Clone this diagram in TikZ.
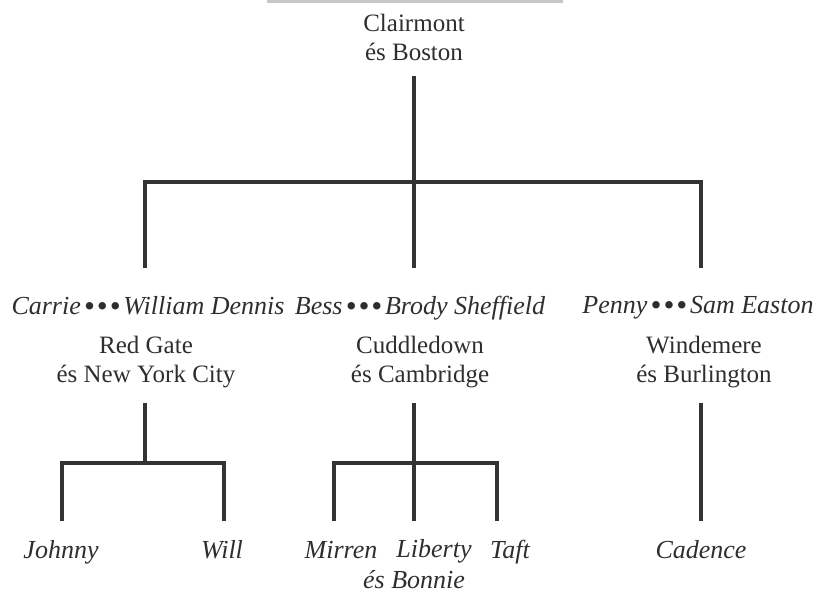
\documentclass[tikz,border=0pt]{standalone}
\usepackage{fontspec}
\setmainfont{Liberation Serif}
\newcommand\onedot{\raisebox{-2.5pt}{\fontsize{31}{31}\selectfont\textbullet}}
\newcommand\mydots{\kern3pt\onedot\kern2pt\onedot\kern2pt\onedot\kern3pt}
\begin{document}
\begin{tikzpicture}[x=1pt,y=-1pt,
  txt/.style={font=\fontsize{25}{29}\selectfont, align=center, inner sep=0pt, text=black!82},
  nm/.style={font=\fontsize{26}{31}\selectfont\itshape, align=center, inner sep=0pt, text=black!82},
  kid/.style={nm, text height=17.5pt, anchor=north, outer ysep=20pt},
  ln/.style={line width=3.1pt, draw=black!80}]
\useasboundingbox (0,0) rectangle (821,605);
\fill[black!22] (267,0) rectangle (563,3);

\node[txt, anchor=south, outer ysep=15pt] (clair) at (414,76) {Clairmont\\és Boston};

\node[nm, anchor=north, outer ysep=28pt] (cw) at (148,268) {Carrie\mydots William Dennis};
\node[nm, anchor=north, outer ysep=28pt] (bb) at (420,268) {Bess\mydots Brody Sheffield};
\node[nm, anchor=north, outer ysep=28pt] (ps) at (698,268) {Penny\mydots Sam Easton};

\node[txt, anchor=south, outer ysep=15pt] (rg) at (146,403) {Red Gate\\és New York City};
\node[txt, anchor=south, outer ysep=15pt] (cu) at (420,403) {Cuddledown\\és Cambridge};
\node[txt, anchor=south, outer ysep=15pt] (wi) at (704,403) {Windemere\\és Burlington};

\node[kid] (johnny) at (61,521) {Johnny};
\node[kid] (will) at (222,521) {Will};
\node[kid] (mirren) at (341,521) {Mirren};
\node[nm, anchor=north, outer ysep=18pt] (liberty) at (414,521) {\hspace*{40pt}Liberty\\és Bonnie};
\node[kid] (taft) at (510,521) {Taft};
\node[kid] (cadence) at (701,521) {Cadence};

\coordinate (b0) at (414,182);
\draw[ln] (clair.south) -- (b0);
\draw[ln] ([xshift=-3pt]cw.north) |- (b0) -| ([xshift=3pt]ps.north);
\draw[ln] (b0) -- ([xshift=-6pt]bb.north);

\coordinate (b1) at (145,463);
\draw[ln] ([xshift=-1pt]rg.south) -- (b1);
\draw[ln] ([xshift=1pt]johnny.north) |- (b1) -| ([xshift=2pt]will.north);

\coordinate (b2) at (414,463);
\draw[ln] ([xshift=-6pt]cu.south) -- (liberty.north);
\draw[ln] ([xshift=-7pt]mirren.north) |- (b2) -| ([xshift=-13pt]taft.north);

\draw[ln] ([xshift=-3pt]wi.south) -- (cadence.north);
\end{tikzpicture}
\end{document}
